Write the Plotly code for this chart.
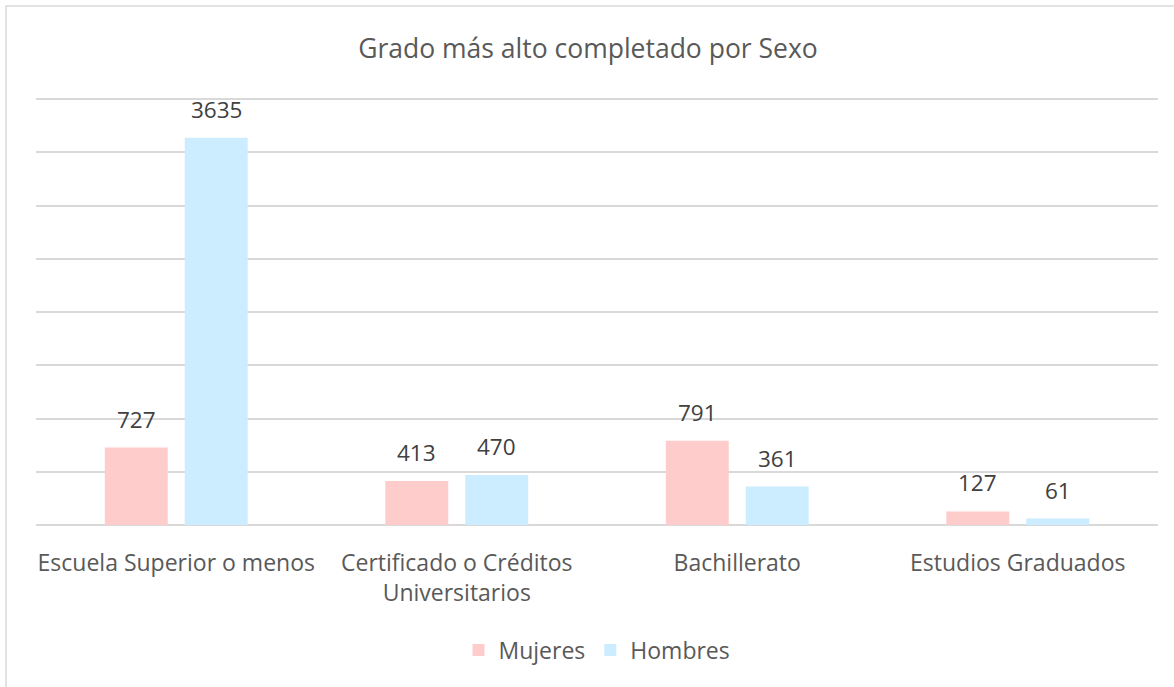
import plotly.graph_objects as go

categories = ["Escuela Superior o menos", "Certificado o Créditos<br>Universitarios", "Bachillerato", "Estudios Graduados"]
mujeres = [727, 413, 791, 127]
hombres = [3635, 470, 361, 61]
series = [("Mujeres", mujeres, "#FFCCCC"), ("Hombres", hombres, "#CCECFF")]

W, H = 1174, 687
L, R, T, B = 36, 16, 96, 162
FONT = "Open Sans"
BASE_Y, TOP_Y = 525, 99  # pixel rows of 0 and 4000
pw, ph = W - L - R, H - T - B
ymax = 4000 * ph / (BASE_Y - TOP_Y)

fig = go.Figure()
for name, vals, col in series:
    fig.add_trace(go.Bar(x=categories, y=vals, name=name, marker=dict(color=col, line=dict(width=0))))

ann = []
for k, (name, vals, col) in enumerate(series):
    shift = -40 if k == 0 else 40
    for c, v in zip(categories, vals):
        ann.append(dict(x=c, y=v, text=str(v), showarrow=False, xref="x", yref="y",
                        xshift=shift, yshift=11, yanchor="bottom",
                        font=dict(family=FONT, size=22.5, color="#404040")))

fig.add_shape(type="rect", xref="paper", yref="paper",
              x0=(6 - L) / pw, x1=(W + 5 - L) / pw,
              y0=-(H + 5 - T - ph) / ph, y1=1 + (T - 6) / ph,
              line=dict(color="#D9D9D9", width=1.5), layer="below")

fig.update_layout(
    width=W, height=H,
    margin=dict(l=L, r=R, t=T, b=B),
    paper_bgcolor="white", plot_bgcolor="white",
    barmode="group", bargap=0.43, bargroupgap=0.2125,
    title=dict(text="Grado más alto completado por Sexo", x=588 / W, xref="container", xanchor="center",
               y=1 - 49 / H, yanchor="middle",
               font=dict(family=FONT, size=26.5, color="#595959")),
    annotations=ann,
    legend=dict(orientation="h", x=0.5, xanchor="center", y=-(650 - (T + ph)) / ph, yanchor="middle",
                font=dict(family=FONT, size=23, color="#595959"), itemwidth=30, traceorder="normal"),
    xaxis=dict(showline=False, ticks="", ticklabelstandoff=22,
               tickfont=dict(family=FONT, size=23, color="#595959"),
               showgrid=False, zeroline=False),
    yaxis=dict(range=[0, ymax], dtick=500, showgrid=True, gridcolor="#D9D9D9", gridwidth=1.5,
               showticklabels=False, zeroline=True, zerolinecolor="#D9D9D9", zerolinewidth=1.5,
               ticks=""),
)
fig.write_html("out.html", config={"displayModeBar": False},
               post_script="document.body.style.margin='0';window.dispatchEvent(new Event('resize'));")
